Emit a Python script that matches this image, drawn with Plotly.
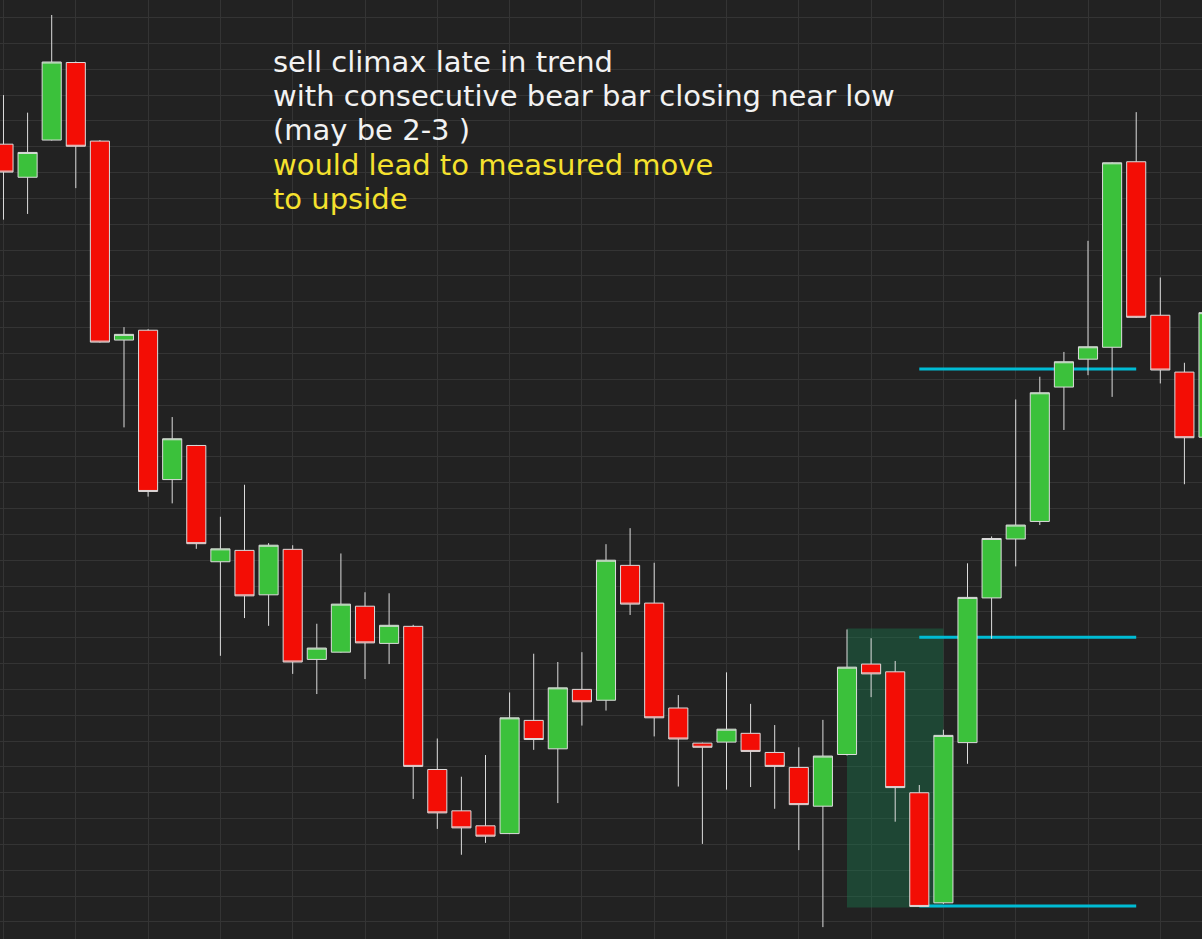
import plotly.graph_objects as go

# ---- data (bar index, OHLC) ----
bar_index = list(range(51))
open_ = [115.05, 114.41, 115.13, 116.63, 115.11, 111.26, 111.45, 108.56, 109.22, 106.97,
         107.19, 106.33, 107.21, 105.08, 105.22, 106.11, 105.39, 105.72, 102.95, 102.15,
         101.86, 101.71, 103.90, 103.35, 104.50, 104.29, 106.90, 106.17, 104.14, 103.46,
         103.48, 103.65, 103.28, 102.99, 102.24, 103.24, 104.99, 104.84, 102.50, 100.37,
         103.47, 106.27, 107.41, 107.75, 110.35, 110.89, 111.12, 114.71, 111.74, 110.64,
         109.38]
high = [116.00, 115.66, 117.55, 116.65, 115.13, 111.51, 111.47, 109.77, 109.23, 107.84,
        108.46, 107.33, 107.29, 105.77, 107.13, 106.38, 106.36, 105.75, 103.55, 102.81,
        103.23, 104.44, 105.19, 105.03, 105.22, 107.31, 107.62, 106.95, 104.39, 103.47,
        104.83, 104.22, 103.81, 103.38, 103.91, 105.66, 105.49, 105.05, 102.65, 103.72,
        106.94, 107.46, 110.11, 110.55, 111.03, 113.18, 114.70, 115.67, 112.47, 110.82,
        111.80]
low = [113.59, 113.70, 115.12, 114.20, 111.21, 109.57, 108.23, 108.10, 107.22, 105.15,
       105.88, 105.73, 104.80, 104.41, 105.21, 104.70, 104.99, 102.38, 101.80, 101.30,
       101.53, 101.70, 103.33, 102.30, 103.80, 104.09, 105.94, 103.59, 102.62, 101.51,
       102.56, 102.61, 102.19, 101.39, 99.90, 103.22, 104.35, 101.94, 100.29, 100.35,
       103.06, 105.48, 106.88, 107.68, 109.52, 110.58, 110.16, 111.69, 110.42, 108.47,
       109.37]
close = [114.51, 114.89, 116.64, 115.01, 111.22, 111.37, 108.33, 109.35, 107.32, 107.22,
         106.31, 107.29, 105.03, 105.30, 106.15, 105.40, 105.74, 103.01, 102.11, 101.82,
         101.66, 103.95, 103.53, 104.53, 104.26, 107.00, 106.15, 103.95, 103.54, 103.38,
         103.73, 103.30, 103.01, 102.27, 103.21, 104.93, 104.80, 102.60, 100.30, 103.61,
         106.28, 107.42, 107.68, 110.24, 110.84, 111.13, 114.69, 111.70, 110.68, 109.37,
         111.79]

# measured-move levels
level_prices = [100.31, 105.51, 110.70]
level_start_bar = 38
level_end_bar = 47

# climax zone
zone_start_bar = 35
zone_end_bar = 39
zone_top = 105.68
zone_bottom = 100.28

note_white = ["sell climax late in trend",
              "with consecutive bear bar closing near low",
              "(may be 2-3 )"]
note_yellow = ["would lead to measured move", "to upside"]

BG = "#222222"
GRID = "#343434"
UP = "#3bc13b"
DOWN = "#f30d05"
EDGE = "#dcdcdc"

fig = go.Figure()
fig.add_trace(go.Candlestick(
    x=bar_index, open=open_, high=high, low=low, close=close,
    increasing=dict(fillcolor=UP, line=dict(color=EDGE, width=1)),
    decreasing=dict(fillcolor=DOWN, line=dict(color=EDGE, width=1)),
    whiskerwidth=0, showlegend=False, hoverinfo="skip",
))

shapes = []
shapes.append(dict(type="rect", xref="x", yref="y",
                   x0=zone_start_bar, x1=zone_end_bar, y0=zone_bottom, y1=zone_top,
                   fillcolor="rgba(24,124,79,0.40)", line=dict(width=0), layer="between"))
for lv in level_prices:
    shapes.append(dict(type="line", xref="x", yref="y",
                       x0=level_start_bar, x1=level_end_bar, y0=lv, y1=lv,
                       line=dict(color="#00bcd4", width=3), layer="between"))

FONT = "DejaVu Sans"
FSIZE = 29
annotations = []
line_centers = [62, 96, 130, 165, 199]
lines = [(t, "#f2f2f2") for t in note_white] + [(t, "#f5e12e") for t in note_yellow]
for (txt, col), yc in zip(lines, line_centers):
    annotations.append(dict(
        xref="paper", yref="paper", x=272 / 1202, y=1 - yc / 939,
        xanchor="left", yanchor="middle", align="left", showarrow=False,
        borderpad=0,
        text=txt, font=dict(family=FONT, size=FSIZE, color=col)))

fig.update_layout(
    width=1202, height=939,
    margin=dict(l=0, r=0, t=0, b=0),
    paper_bgcolor=BG, plot_bgcolor=BG,
    boxgap=0.1, boxgroupgap=0.12,
    shapes=shapes, annotations=annotations,
    showlegend=False,
    xaxis=dict(range=[-0.145, 49.73], dtick=3, tick0=0, showgrid=True, gridcolor=GRID,
               gridwidth=1, zeroline=False, showticklabels=False, ticks="",
               rangeslider=dict(visible=False), fixedrange=True),
    yaxis=dict(range=[99.67, 117.84], dtick=0.5, tick0=100, showgrid=True, gridcolor=GRID,
               gridwidth=1, zeroline=False, showticklabels=False, ticks="", fixedrange=True),
)

fig.write_html("out.html", config={"displayModeBar": False},
               post_script="document.body.style.margin='0';document.body.style.overflow='hidden';")
